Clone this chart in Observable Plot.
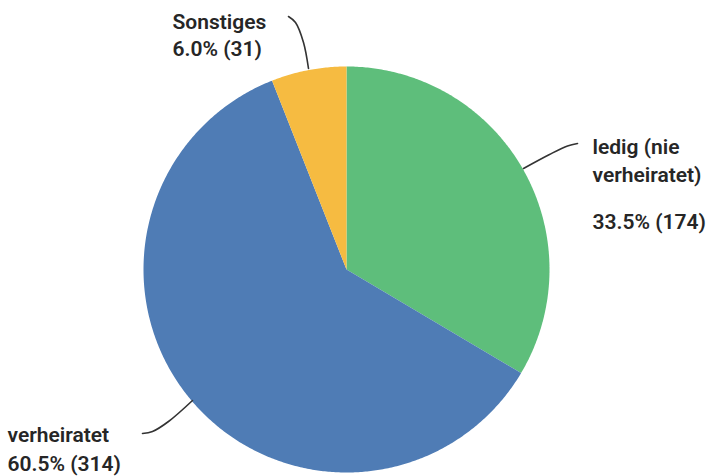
<!DOCTYPE html>
<html><head><meta charset="utf-8">
<script src="https://cdn.jsdelivr.net/npm/d3@7"></script>
<script src="https://cdn.jsdelivr.net/npm/@observablehq/plot@0.6"></script>
<style>body{margin:0;background:#fff} #chart{width:719px;height:476px}</style>
</head><body><div id="chart"></div>
<script>
const categories = ["ledig (nie verheiratet)", "verheiratet", "Sonstiges"];
const counts = [174, 314, 31];
const percentages = [33.5, 60.5, 6.0];
const colors = ["#5ebe7b", "#4f7cb5", "#f6bb41"];
const labelNames = [["ledig (nie", "verheiratet)"], ["verheiratet"], ["Sonstiges"]];

// layout (pixels)
const W = 719, H = 476, CX = 346, CY = 269, R = 203;
const labelLayout = [
  {x: 592, baselines: [153, 181.5, 228]},
  {x: 7, baselines: [441.5, 470]},
  {x: 172, baselines: [28, 55]}
];
const leaderLayout = [
  [[577,143],[567,145.5],[549,154],[523,168]],
  [[142,433],[152,431],[168,421],[192,400]],
  [[288,16],[295,22],[303,42],[308,68]]
];

const total = d3.sum(counts);
let acc = 0;
const slicePts = [];
categories.forEach((c, i) => {
  const a0 = acc / total * 2 * Math.PI;
  acc += counts[i];
  const a1 = acc / total * 2 * Math.PI;
  slicePts.push({cat: c, x: CX, y: CY});
  const n = Math.max(2, Math.ceil((a1 - a0) / (Math.PI / 360)));
  for (let k = 0; k <= n; k++) {
    const a = a0 + (a1 - a0) * k / n;
    slicePts.push({cat: c, x: CX + R * Math.sin(a), y: CY - R * Math.cos(a)});
  }
});

const texts = [];
categories.forEach((c, i) => {
  const lines = [...labelNames[i], `${percentages[i].toFixed(1)}% (${counts[i]})`];
  const L = labelLayout[i];
  lines.forEach((t, j) => texts.push({text: t, x: L.x, y: L.baselines[j]}));
});

const leaders = [];
leaderLayout.forEach((pts, i) => pts.forEach(p => leaders.push({cat: categories[i], x: p[0], y: p[1]})));

const chart = Plot.plot({
  width: W, height: H,
  margin: 0,
  style: {fontFamily: "Roboto, sans-serif", background: "#fff"},
  x: {type: "linear", domain: [0, W], range: [0, W], axis: null},
  y: {type: "linear", domain: [0, H], range: [0, H], axis: null},
  color: {domain: categories, range: colors},
  marks: [
    Plot.line(slicePts, {x: "x", y: "y", z: "cat", fill: "cat", stroke: null, curve: "linear-closed"}),
    Plot.line(leaders, {x: "x", y: "y", z: "cat", stroke: "#333", strokeWidth: 1.6, curve: "catmull-rom"}),
    Plot.text(texts, {x: "x", y: "y", text: "text", textAnchor: "start", lineAnchor: "bottom",
      fontSize: 21, fontWeight: 600, fill: "#262626"})
  ]
});
document.getElementById("chart").appendChild(chart);
</script>
</body></html>
